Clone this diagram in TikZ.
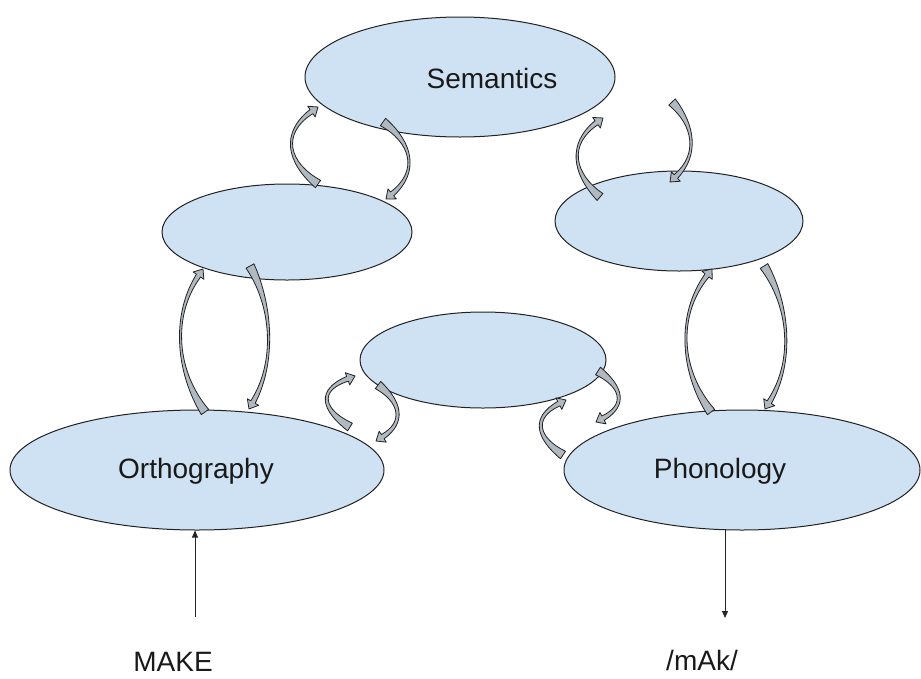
\documentclass[tikz,border=0pt]{standalone}
\usepackage{fontspec}
\setmainfont{Liberation Sans}
\usetikzlibrary{shapes.geometric,arrows.meta}
\definecolor{ellfill}{HTML}{CFE2F3}
\definecolor{arrfill}{RGB}{176,184,192}
\definecolor{edgecol}{HTML}{222222}

% curved block arrow: tail (#1,#2), tip (#3,#4), bulge #5, mid half-thickness #6
\newcommand\curvarrow[6]{%
 \pgfmathsetmacro\caDx{(#3)-(#1)}%
 \pgfmathsetmacro\caDy{(#4)-(#2)}%
 \pgfmathsetmacro\caL{veclen(\caDx,\caDy)}%
 \pgfmathsetmacro\caUx{(\caDx)/(\caL)}%
 \pgfmathsetmacro\caUy{(\caDy)/(\caL)}%
 \pgfmathsetmacro\caSx{(\caUy)}%
 \pgfmathsetmacro\caSy{-(\caUx)}%
 \pgfmathsetmacro\caCB{1.333*(#5)}%
 \pgfmathsetmacro\caAL{0.28*(\caL)}%
 \pgfmathsetmacro\caN{veclen(\caCB,\caAL)}%
 \pgfmathsetmacro\caAl{(\caCB)/(\caN)}%
 \pgfmathsetmacro\caBe{(\caAL)/(\caN)}%
 \pgfmathsetmacro\caTx{-(\caAl)*(\caSx)+(\caBe)*(\caUx)}%
 \pgfmathsetmacro\caTy{-(\caAl)*(\caSy)+(\caBe)*(\caUy)}%
 \pgfmathsetmacro\caNax{(\caBe)*(\caSx)-(\caAl)*(\caUx)}%
 \pgfmathsetmacro\caNay{(\caBe)*(\caSy)-(\caAl)*(\caUy)}%
 \pgfmathsetmacro\caNbx{(\caBe)*(\caSx)+(\caAl)*(\caUx)}%
 \pgfmathsetmacro\caNby{(\caBe)*(\caSy)+(\caAl)*(\caUy)}%
 \pgfmathsetmacro\caPdx{(#3)-8*(\caTx)}%
 \pgfmathsetmacro\caPdy{(#4)-8*(\caTy)}%
 \pgfmathsetmacro\caPbx{(#1)+(\caCB)*(\caSx)+(\caAL)*(\caUx)}%
 \pgfmathsetmacro\caPby{(#2)+(\caCB)*(\caSy)+(\caAL)*(\caUy)}%
 \pgfmathsetmacro\caPcx{(\caPdx)+(\caCB)*(\caSx)-(\caAL)*(\caUx)}%
 \pgfmathsetmacro\caPcy{(\caPdy)+(\caCB)*(\caSy)-(\caAL)*(\caUy)}%
 \filldraw[blockarrow]
  ({#1+4.5*\caNax},{#2+4.5*\caNay})
   .. controls ({\caPbx+(#6)*\caSx},{\caPby+(#6)*\caSy})
   and ({\caPcx+(#6)*\caSx},{\caPcy+(#6)*\caSy}) ..
  ({\caPdx+2.5*\caNbx},{\caPdy+2.5*\caNby})
  -- ({\caPdx+6.5*\caNbx},{\caPdy+6.5*\caNby})
  -- (#3,#4)
  -- ({\caPdx-6.5*\caNbx},{\caPdy-6.5*\caNby})
  -- ({\caPdx-2.5*\caNbx},{\caPdy-2.5*\caNby})
   .. controls ({\caPcx-(#6)*\caSx},{\caPcy-(#6)*\caSy})
   and ({\caPbx-(#6)*\caSx},{\caPby-(#6)*\caSy}) ..
  ({#1-4.5*\caNax},{#2-4.5*\caNay}) -- cycle;%
}

\begin{document}
\begin{tikzpicture}[x=1pt,y=-1pt,
  ell/.style={ellipse, draw=edgecol, fill=ellfill, line width=1pt, inner sep=0pt},
  blockarrow/.style={draw=edgecol, fill=arrfill, line width=0.8pt, line join=round},
  lbl/.style={anchor=base, inner sep=0pt, text=black!90, font=\fontsize{28}{34}\selectfont},
  thinarrow/.style={draw=black!85, line width=1pt, -{Triangle[length=7pt,width=6pt]}}]
\useasboundingbox[fill=white] (0,0) rectangle (921,678);

\node[ell, minimum width=310pt, minimum height=120pt] (sem) at (460,77) {};
\node[ell, minimum width=250pt, minimum height=96pt] (lmid) at (287,232) {};
\node[ell, minimum width=248pt, minimum height=100pt] (rmid) at (679,221) {};
\node[ell, minimum width=246pt, minimum height=96pt] (cmid) at (483,360) {};
\node[ell, minimum width=374pt, minimum height=120pt] (orth) at (197,470) {};
\node[ell, minimum width=356pt, minimum height=120pt] (phon) at (742,470) {};

% Semantics <-> left middle
\curvarrow{318}{184}{318}{107}{23}{0.8}
\curvarrow{383}{122}{386}{199}{21}{0.8}
% Semantics <-> right middle
\curvarrow{600}{197}{603}{118}{21}{0.8}
\curvarrow{672}{102}{670}{182}{17}{0.8}
% left middle <-> Orthography
\curvarrow{205}{412}{203}{269}{21}{0.5}
\curvarrow{250}{266}{249}{409}{17}{0.5}
% right middle <-> Phonology
\curvarrow{711}{412}{712}{269}{23}{0.5}
\curvarrow{764}{266}{765}{409}{19}{0.5}
% centre <-> Orthography
\curvarrow{350}{427}{355}{376}{22}{1.5}
\curvarrow{378}{385}{376}{441}{17}{1.5}
% centre <-> Phonology
\curvarrow{598}{371}{596}{422}{18}{1.5}
\curvarrow{563}{455}{566}{400}{20}{1.5}

\node[lbl] (semtext) at (492,88) {Semantics};
\node[lbl] (orthtext) at (196,478) {Orthography};
\node[lbl] (phontext) at (720,478) {Phonology};
\node[lbl] (make) at (173,671) {MAKE};
\node[lbl] (mak) at (702,670) {/mAk/};

\coordinate (mkfoot) at (195,617);
\draw[thinarrow] (mkfoot) -- (mkfoot |- orth.south);
\coordinate (phfoot) at (725,618);
\coordinate (phtop) at (725,529);
\draw[thinarrow] (phtop) -- (phfoot);
\end{tikzpicture}
\end{document}
